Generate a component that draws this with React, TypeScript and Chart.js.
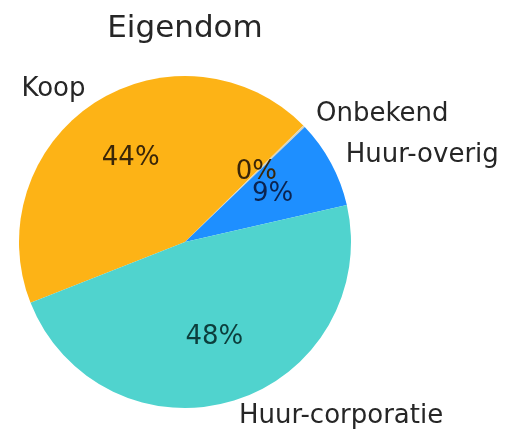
import React, { useEffect, useRef } from "react";
import { Chart, registerables } from "chart.js";

Chart.register(...registerables);

const TITLE = "Eigendom";
const categories = ["Koop", "Onbekend", "Huur-overig", "Huur-corporatie"];
const shares = [43.6, 0.2, 8.6, 47.6];
const colors = ["#FDB316", "#D8D2B8", "#1E8FFF", "#50D3CE"];
const pctColors = ["#3A2608", "#3A2608", "#0B2350", "#0C3E3C"];

const FONT = "'DejaVu Sans', 'Liberation Sans', sans-serif";

const labelPlugin = {
  id: "pieLabels",
  afterDraw(chart: any) {
    const ctx = chart.ctx;
    const meta = chart.getDatasetMeta(0);
    const data = chart.data.datasets[0].data as number[];
    const total = data.reduce((a: number, b: number) => a + b, 0);
    ctx.save();
    ctx.textBaseline = "middle";
    meta.data.forEach((arc: any, i: number) => {
      const p = arc.getProps(["x", "y", "startAngle", "endAngle", "outerRadius"], true);
      const mid = (p.startAngle + p.endAngle) / 2;
      const c = Math.cos(mid);
      const s = Math.sin(mid);
      // outer category label
      ctx.font = `26px ${FONT}`;
      ctx.fillStyle = "#262626";
      ctx.textAlign = c >= 0 ? "left" : "right";
      ctx.fillText(categories[i], p.x + c * p.outerRadius * 1.1, p.y + s * p.outerRadius * 1.1);
      // percent label
      ctx.textAlign = "center";
      ctx.fillStyle = pctColors[i];
      const pct = Math.round((data[i] / total) * 100) + "%";
      ctx.fillText(pct, p.x + c * p.outerRadius * 0.6, p.y + s * p.outerRadius * 0.6);
    });
    // title
    ctx.font = `31px ${FONT}`;
    ctx.fillStyle = "#262626";
    ctx.textAlign = "center";
    ctx.fillText(TITLE, meta.data[0].x, 29);
    ctx.restore();
  },
};

export default function App() {
  const ref = useRef<HTMLCanvasElement>(null);
  useEffect(() => {
    if (!ref.current) return;
    const chart = new Chart(ref.current, {
      type: "pie",
      data: {
        labels: categories,
        datasets: [
          {
            data: shares,
            backgroundColor: colors,
            borderWidth: 0,
          },
        ],
      },
      options: {
        animation: false,
        responsive: true,
        maintainAspectRatio: false,
        rotation: 248.5,
        layout: { padding: { left: 19, right: 155, top: 76, bottom: 24 } },
        plugins: {
          legend: { display: false },
          tooltip: { enabled: false },
          title: { display: false },
        },
      },
      plugins: [labelPlugin],
    });
    return () => chart.destroy();
  }, []);
  return (
    <div style={{ position: "fixed", left: 0, top: 0, width: 506, height: 432, background: "#fff" }}>
      <canvas ref={ref} />
    </div>
  );
}
